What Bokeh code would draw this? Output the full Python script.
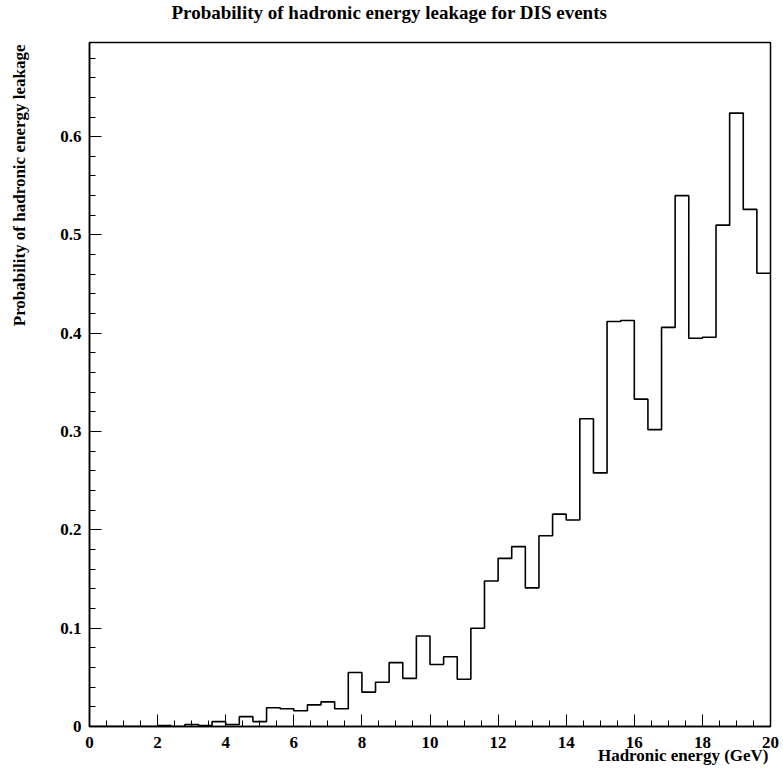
import numpy as np
from bokeh.plotting import figure
from bokeh.models import Title, FixedTicker, Range1d
from bokeh.embed import file_html
from bokeh.resources import INLINE

# ---- data ----
x_min, x_max, n_bins = 0.0, 20.0, 50
probability = [
    0.0, 0.0, 0.0, 0.0, 0.0,
    0.001, 0.0, 0.002, 0.001, 0.005, 0.002, 0.010, 0.005, 0.019, 0.018,
    0.016, 0.022, 0.025, 0.018, 0.055, 0.035, 0.045, 0.065, 0.049, 0.092,
    0.063, 0.071, 0.048, 0.100, 0.148, 0.171, 0.183, 0.141, 0.194, 0.216,
    0.210, 0.313, 0.258, 0.412, 0.413, 0.333, 0.302, 0.406, 0.540, 0.395,
    0.396, 0.510, 0.624, 0.526, 0.461,
]
x_ticks = [0, 2, 4, 6, 8, 10, 12, 14, 16, 18, 20]
x_tick_labels = ["0", "2", "4", "6", "8", "10", "12", "14", "16", "18", "20"]
y_ticks = [0, 0.1, 0.2, 0.3, 0.4, 0.5, 0.6]
y_tick_labels = ["0", "0.1", "0.2", "0.3", "0.4", "0.5", "0.6"]
title_text = "Probability of hadronic energy leakage for DIS events"
x_label_text = "Hadronic energy (GeV)"
y_label_text = "Probability of hadronic energy leakage"

edges = np.linspace(x_min, x_max, n_bins + 1)
step_y = list(probability) + [probability[-1]]

FONT = "Liberation Serif"
Y_TOP = 0.6958

p = figure(width=783, height=770, output_backend="svg", toolbar_location=None,
           x_range=Range1d(x_min, x_max), y_range=Range1d(0, Y_TOP),
           min_border_left=89, min_border_right=13, min_border_top=42,
           min_border_bottom=44)
p.background_fill_color = "white"
p.border_fill_color = "white"
p.outline_line_color = "black"
p.outline_line_width = 1.5
p.xgrid.visible = False
p.ygrid.visible = False

p.step(x=list(edges), y=step_y, mode="after", line_color="black", line_width=1.6)

x_minor = list(np.arange(0, 20.01, 0.5))
y_minor = list(np.round(np.arange(0, 0.70, 0.02), 2))
p.xaxis.ticker = FixedTicker(ticks=x_ticks, minor_ticks=x_minor)
p.yaxis.ticker = FixedTicker(ticks=y_ticks, minor_ticks=y_minor)
p.xaxis.major_label_overrides = {t: l for t, l in zip(x_ticks, x_tick_labels)}
p.yaxis.major_label_overrides = {t: l for t, l in zip(y_ticks, y_tick_labels)}

for ax in (p.xaxis[0], p.yaxis[0]):
    ax.axis_line_color = "black"
    ax.axis_line_width = 1.5
    ax.major_tick_in = 12
    ax.major_tick_out = 0
    ax.minor_tick_in = 6
    ax.minor_tick_out = 0
    ax.major_tick_line_color = "black"
    ax.minor_tick_line_color = "black"
    ax.major_tick_line_width = 1
    ax.minor_tick_line_width = 1
    ax.major_label_text_font = FONT
    ax.major_label_text_font_style = "bold"
    ax.major_label_text_font_size = "17px"
    ax.major_label_text_color = "black"
p.xaxis.major_label_standoff = 10
p.yaxis.major_label_standoff = 8

def title(text, side, align, offset, standoff, size, valign):
    p.add_layout(Title(text=text, align=align, offset=offset, standoff=standoff,
                       vertical_align=valign,
                       text_font=FONT, text_font_style="bold",
                       text_font_size=size, text_color="black"), side)

# spacers (thin, empty) keep the text panels at the reference's distances
title(" ", "above", "left", 0, 13.5, "1px", "top")
title(title_text, "above", "left", 82, 2, "19px", "top")
title(x_label_text, "below", "right", 2, -9, "17px", "top")
title(" ", "left", "right", 0, 14.5, "1px", "top")
title(y_label_text, "left", "right", 2, 16.8, "17px", "top")

open("out.html", "w").write(file_html(p, INLINE))
